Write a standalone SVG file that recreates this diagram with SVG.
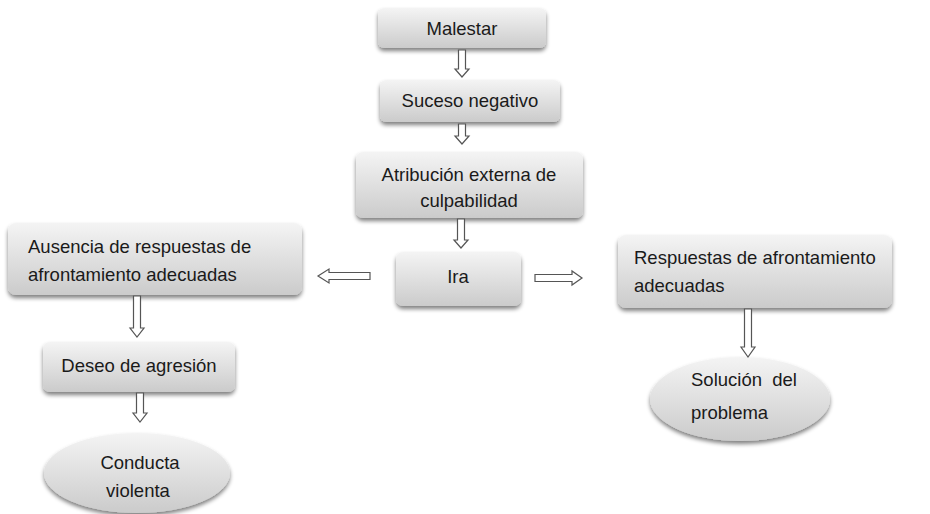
<svg xmlns="http://www.w3.org/2000/svg" width="930" height="514" viewBox="0 0 930 514">
<defs>
<linearGradient id="g" x1="0" y1="0" x2="0" y2="1">
<stop offset="0" stop-color="#f4f4f4"/>
<stop offset="1" stop-color="#cbcbcb"/>
</linearGradient>
<filter id="sh" x="-10%" y="-20%" width="120%" height="150%">
<feGaussianBlur in="SourceAlpha" stdDeviation="2"/>
<feOffset dx="0" dy="3" result="b"/>
<feComponentTransfer><feFuncA type="linear" slope="0.5"/></feComponentTransfer>
<feMerge><feMergeNode/><feMergeNode in="SourceGraphic"/></feMerge>
</filter>
</defs>
<style>
.box{fill:url(#g);filter:url(#sh)}
.t{font-family:"Liberation Sans",Arial,sans-serif;font-size:18.5px;fill:#1a1a1a}
.c{text-anchor:middle}
.ar{fill:#fff;stroke:#555;stroke-width:1.2}
</style>
<rect width="930" height="514" fill="#fff"/>
<g id="malestar"><rect class="box" x="378" y="8" width="168" height="40" rx="6"/><text class="t c" x="462" y="35">Malestar</text></g>
<g id="suceso"><rect class="box" x="380" y="80" width="180" height="42" rx="6"/><text class="t c" x="470" y="107">Suceso negativo</text></g>
<g id="atribucion"><rect class="box" x="356" y="152" width="227" height="66" rx="7"/><text class="t c" x="469" y="181">Atribución externa de</text><text class="t c" x="469" y="207">culpabilidad</text></g>
<g id="ira"><rect class="box" x="396" y="252" width="125" height="54" rx="7"/><text class="t c" x="458" y="283">Ira</text></g>
<g id="ausencia"><rect class="box" x="8" y="223" width="294" height="72" rx="8"/><text class="t" x="28" y="253">Ausencia de respuestas de</text><text class="t" x="28" y="281">afrontamiento adecuadas</text></g>
<g id="deseo"><rect class="box" x="43" y="342" width="192" height="50" rx="7"/><text class="t c" x="139" y="372">Deseo de agresión</text></g>
<g id="conducta"><ellipse cx="137" cy="473" rx="93" ry="40" fill="url(#g)" filter="url(#sh)"/><text class="t c" x="140" y="469">Conducta</text><text class="t c" x="138" y="497">violenta</text></g>
<g id="respuestas"><rect class="box" x="618" y="235" width="274" height="73" rx="8"/><text class="t" x="634" y="264">Respuestas de afrontamiento</text><text class="t" x="634" y="292">adecuadas</text></g>
<g id="solucion"><ellipse cx="740" cy="399" rx="90" ry="42" fill="url(#g)" filter="url(#sh)"/><text class="t" x="691" y="386" xml:space="preserve" style="white-space:pre">Solución  del</text><text class="t" x="691" y="419">problema</text></g>
<g id="connectors">
<path class="ar" d="M458.5 50 H465.5 V69 H469 L462 77 L455 69 H458.5 Z"/>
<path class="ar" d="M458.5 124 H465.5 V136 H469 L462 144 L455 136 H458.5 Z"/>
<path class="ar" d="M457.5 219 H464.5 V240 H468 L461 248 L454 240 H457.5 Z"/>
<path class="ar" d="M535 274.5 H572 V271 L582 278 L572 285 V281.5 H535 Z"/>
<path class="ar" d="M370 272.5 H329 V269 L318 276 L329 283 V279.5 H370 Z"/>
<path class="ar" d="M133.5 296 H140.5 V328 H144 L137 337 L130 328 H133.5 Z"/>
<path class="ar" d="M136.5 393 H143.5 V413 H147 L140 422 L133 413 H136.5 Z"/>
<path class="ar" d="M744.5 309 H751.5 V347 H755 L748 357 L741 347 H744.5 Z"/>
</g>
</svg>
